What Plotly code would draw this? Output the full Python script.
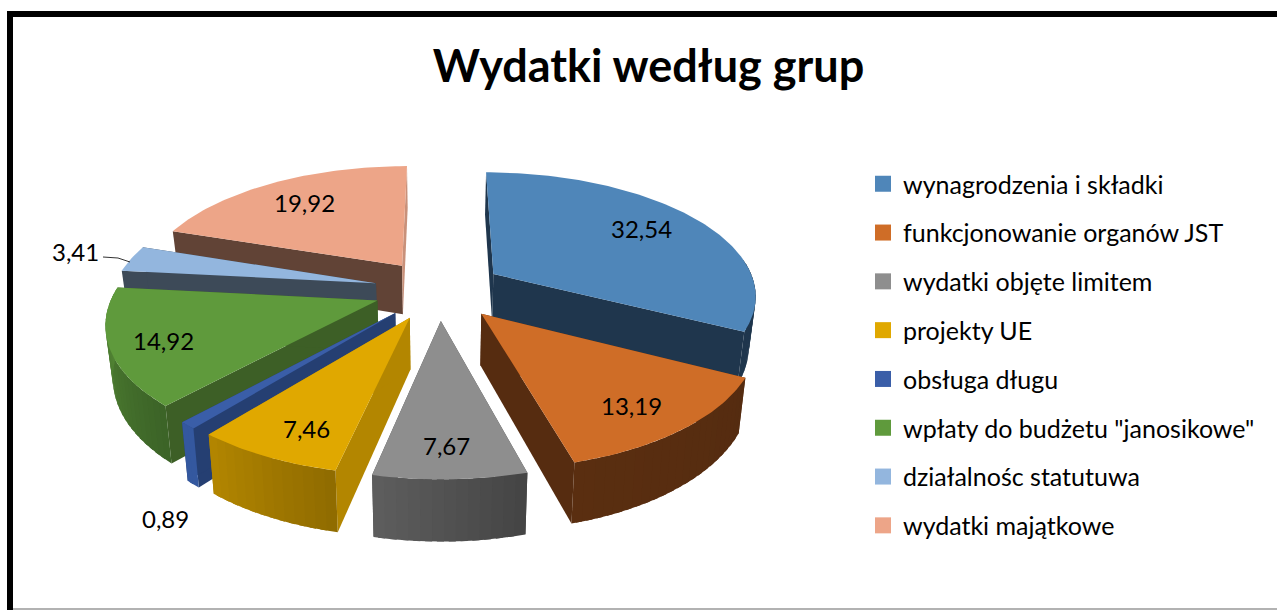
import math
import plotly.graph_objects as go

TITLE = "Wydatki według grup"
CATEGORIES = ["wynagrodzenia i składki", "funkcjonowanie organów JST", "wydatki objęte limitem",
              "projekty UE", "obsługa długu", 'wpłaty do budżetu "janosikowe"',
              "działalnośc statutuwa", "wydatki majątkowe"]
VALUES = [32.54, 13.19, 7.67, 7.46, 0.89, 14.92, 3.41, 19.92]

# styles
TOP = ["#4f86b9", "#cf6d27", "#8e8e8e", "#e0a800", "#3a5ea8", "#5f9a3c", "#93b6de", "#eda588"]
LEGEND_COL = ["#4f86b9", "#cf6d27", "#8e8e8e", "#e0a800", "#3a5ea8", "#5f9a3c", "#93b6de", "#eda588"]
SIDE_START = ["#1f364d", "#562c10", "#4a4a4a", "#b38600", "#253f72", "#3d5f26", "#3d4a58", "#614336"]
SIDE_END = ["#1f364d", "#562c10", "#4a4a4a", "#b38600", "#253f72", "#3d5f26", "#3d4a58", "#c9917a"]
ARC = [("#1f364d", "#1f364d"), ("#552c10", "#5a2e10"), ("#444444", "#5e5e5e"), ("#8f6b00", "#b38600"),
       ("#34589f", "#34589f"), ("#3c6327", "#558a36"), ("#3d4a58", "#3d4a58"), ("#614336", "#614336")]
LABEL_POS = [(641, 228), (631, 405), (446, 445), (306, 428), (165, 518), (163, 340), (75, 251), (304, 202)]
FONT = "Lato"

# projection parameters (pixels)
CX, CY, R, EXPLODE, P, K, DEPTH = 439, 289.5, 263, 65, 0.0006, 0.465, 50


def project(theta, r, mid, z=0):
    u = r * math.sin(theta) + EXPLODE * math.sin(mid)
    v = r * math.cos(theta) + EXPLODE * math.cos(mid)
    s = 1 / (1 + P * v)
    return CX + u * s * (1 - 0.022 * z), CY - K * v * s + z * DEPTH * s


def poly(points, color, edge=0.0):
    return go.Scatter(x=[p[0] for p in points] + [points[0][0]],
                      y=[p[1] for p in points] + [points[0][1]],
                      mode="lines", fill="toself", fillcolor=color,
                      line=dict(color=color, width=edge), hoverinfo="skip", showlegend=False)


def lerp(c1, c2, t):
    a = [int(c1[i:i + 2], 16) for i in (1, 3, 5)]
    b = [int(c2[i:i + 2], 16) for i in (1, 3, 5)]
    return "#%02x%02x%02x" % tuple(round(x + (y - x) * t) for x, y in zip(a, b))


fig = go.Figure()
total = sum(VALUES)
spans, acc = [], 0.0
for val in VALUES:
    spans.append((acc / total * 2 * math.pi, (acc + val) / total * 2 * math.pi))
    acc += val

# back-to-front painting order
for i in [0, 7, 6, 5, 4, 3, 2, 1]:
    t0, t1 = spans[i]
    mid = (t0 + t1) / 2
    # cut walls
    for t, col in ((t0, SIDE_START[i]), (t1, SIDE_END[i])):
        fig.add_trace(poly([project(t, 0, mid), project(t, R, mid),
                            project(t, R, mid, 1), project(t, 0, mid, 1)], col))
    # outer wall (only its front part shows), split into overlapping strips for the shading
    n = max(2, int((t1 - t0) / math.radians(2)))
    for j in range(n):
        a = t0 + (t1 - t0) * j / n
        b = min(t1, t0 + (t1 - t0) * (j + 1.6) / n)
        if math.cos(a) > 0.1 and math.cos(b) > 0.1:
            continue
        fig.add_trace(poly([project(a, R, mid), project(b, R, mid),
                            project(b, R, mid, 1), project(a, R, mid, 1)],
                           lerp(ARC[i][0], ARC[i][1], (j + 0.5) / n)))
    # top face
    m = max(3, int((t1 - t0) / math.radians(1)))
    pts = [project(0, 0, mid)] + [project(t0 + (t1 - t0) * j / m, R, mid) for j in range(m + 1)]
    fig.add_trace(poly(pts, TOP[i]))

# legend entries
for i, name in enumerate(CATEGORIES):
    fig.add_trace(go.Scatter(x=[None], y=[None], mode="markers", name=name, legendgroup=name,
                             marker=dict(symbol="square", size=16, color=LEGEND_COL[i])))

# value labels
for val, (x, y) in zip(VALUES, LABEL_POS):
    fig.add_annotation(x=x, y=y, text=f"{val:.2f}".replace(".", ","), showarrow=False,
                       font=dict(family=FONT, size=24, color="#000000"))

fig.update_layout(
    width=1277, height=610, margin=dict(l=0, r=0, t=0, b=0),
    paper_bgcolor="#ffffff", plot_bgcolor="#ffffff",
    title=dict(text=f"<b>{TITLE}</b>", x=648.5 / 1277, xanchor="center", y=1 - 66 / 610, yanchor="middle",
               font=dict(family=FONT, size=45, color="#000000")),
    xaxis=dict(range=[0, 1277], visible=False, fixedrange=True),
    yaxis=dict(range=[610, 0], visible=False, fixedrange=True),
    legend=dict(x=863 / 1277, xanchor="left", y=1 - 161 / 610, yanchor="top",
                tracegroupgap=13.3, font=dict(family=FONT, size=25, color="#000000"),
                bgcolor="rgba(0,0,0,0)"),
    shapes=[
        dict(type="line", xref="x", yref="y", x0=7, x1=1277, y0=14, y1=14, line=dict(color="#000000", width=6)),
        dict(type="line", xref="x", yref="y", x0=10, x1=10, y0=11, y1=610, line=dict(color="#000000", width=6)),
        dict(type="line", xref="x", yref="y", x0=13, x1=1277, y0=609, y1=609, line=dict(color="#999999", width=1.5)),
        dict(type="path", xref="x", yref="y", path="M 103 257 L 118 258 L 130 262",
             line=dict(color="#333333", width=1)),
    ],
)

fig.write_html("out.html", post_script="document.body.style.margin='0';", config={"displayModeBar": False})
